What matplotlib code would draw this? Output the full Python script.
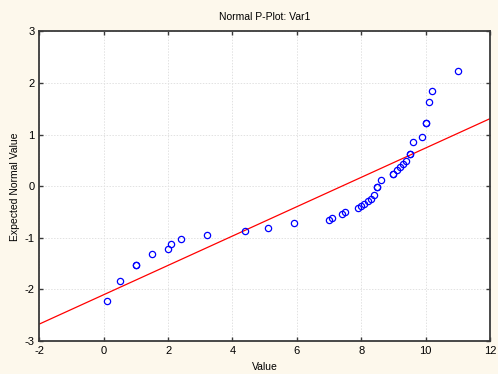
import numpy as np
import matplotlib.pyplot as plt

plt.rcParams['font.family'] = ['Liberation Sans', 'DejaVu Sans']
plt.rcParams['axes.unicode_minus'] = False

values = [0.1, 0.5, 1.0, 1.0, 1.5, 2.0, 2.1, 2.4, 3.2, 4.4, 5.1, 5.9,
          7.0, 7.1, 7.4, 7.5, 7.9, 8.0, 8.1, 8.2, 8.3, 8.4, 8.5, 8.5,
          8.6, 9.0, 9.0, 9.1, 9.2, 9.3, 9.4, 9.5, 9.5, 9.6, 9.9,
          10.0, 10.0, 10.1, 10.2, 11.0]
expected = [-2.23, -1.84, -1.53, -1.53, -1.32, -1.22, -1.11, -1.02, -0.94, -0.87, -0.80, -0.72,
            -0.66, -0.62, -0.54, -0.49, -0.43, -0.38, -0.34, -0.29, -0.25, -0.17, -0.02, -0.02,
            0.13, 0.23, 0.23, 0.32, 0.37, 0.44, 0.49, 0.63, 0.63, 0.85, 0.95,
            1.22, 1.22, 1.63, 1.84, 2.23]

# reference line endpoints
line_x = [-2, 12]
line_y = [-2.67, 1.31]

bg = '#fdf8ec'
fig = plt.figure(figsize=(4.98, 3.74), dpi=100, facecolor=bg)
ax = fig.add_axes([0.079, 0.088, 0.905, 0.828])
ax.set_facecolor('white')

ax.grid(True, color='#e2e2e2', linestyle=(0, (1.5, 1.5)), linewidth=0.7)
ax.set_axisbelow(True)

ax.plot(line_x, line_y, color='red', linewidth=0.9)
ax.plot(values, expected, linestyle='none', marker='o', markersize=4.5,
        markerfacecolor='none', markeredgecolor='blue', markeredgewidth=0.9)

ax.set_xlim(-2, 12)
ax.set_ylim(-3, 3)
ax.set_xticks(np.arange(-2, 13, 2))
ax.set_yticks(np.arange(-3, 4, 1))

for s in ax.spines.values():
    s.set_color('#3a3a3a')
    s.set_linewidth(1.3)
ax.tick_params(direction='in', length=3, width=1, colors='#3a3a3a',
               labelcolor='black', labelsize=8, top=True, right=True)

ax.set_title('Normal P-Plot: Var1', fontsize=7.5, pad=8)
ax.set_xlabel('Value', fontsize=7.5, labelpad=4)
ax.set_ylabel('Expected Normal Value', fontsize=7.5, labelpad=3)

fig.savefig('out.png', dpi=100, facecolor=bg)
